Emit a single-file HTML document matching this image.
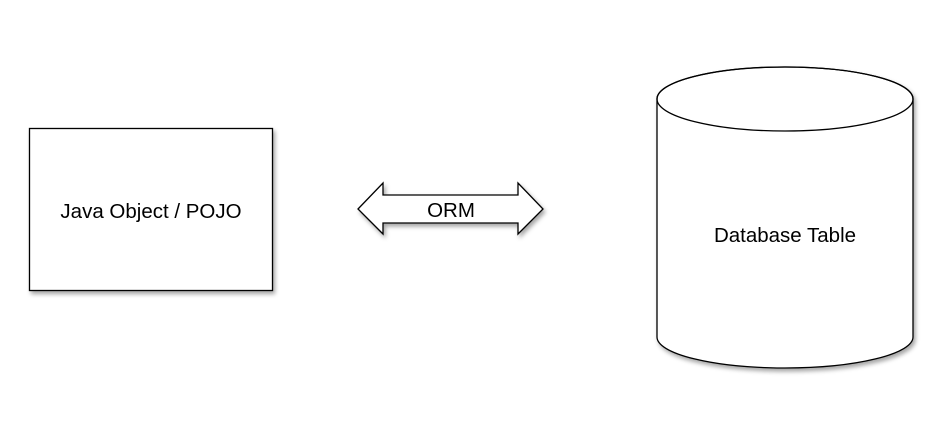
<!DOCTYPE html>
<html><head><style>
html,body{margin:0;padding:0;background:#fff;}
svg text{font-family:"Liberation Sans",sans-serif;fill:#000;}
</style></head><body>
<svg width="944" height="433" viewBox="0 0 944 433" xmlns="http://www.w3.org/2000/svg">
<defs>
<filter id="sh" x="-10%" y="-10%" width="130%" height="130%">
<feDropShadow dx="2" dy="3" stdDeviation="2" flood-color="#000" flood-opacity="0.35"/>
</filter>
</defs>
<rect x="29.5" y="128.5" width="243" height="162" fill="#fff" stroke="#000" stroke-width="1.3" filter="url(#sh)"/>
<text x="151" y="218" font-size="20.5" text-anchor="middle">Java Object / POJO</text>
<polygon points="358,209 383,183 383,195 518,195 518,183 543,209 518,234 518,223 383,223 383,234" fill="#fff" stroke="#000" stroke-width="1.3" filter="url(#sh)"/>
<text x="451" y="217" font-size="20.5" text-anchor="middle">ORM</text>
<path d="M657,99 L657,337 A128,31 0 0 0 913,337 L913,99 A128,32 0 0 0 657,99 Z" fill="#fff" stroke="#000" stroke-width="1.3" filter="url(#sh)"/>
<ellipse cx="785" cy="99" rx="128" ry="32" fill="none" stroke="#000" stroke-width="1.3"/>
<text x="785" y="242" font-size="20.5" text-anchor="middle">Database Table</text>
</svg>
</body></html>
